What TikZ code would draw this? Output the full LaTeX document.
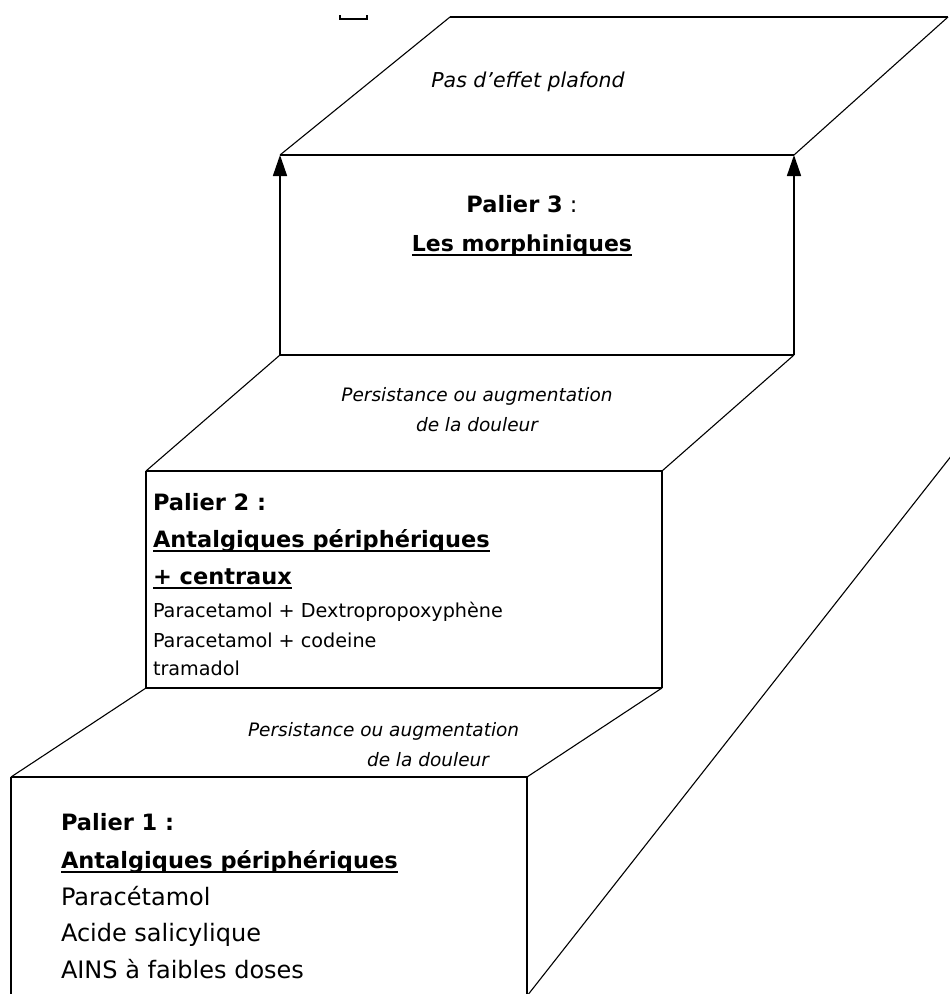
\documentclass[tikz,border=0pt]{standalone}
\usepackage{fontspec}
\setmainfont{DejaVu Sans}
\usetikzlibrary{arrows.meta}
\newcommand\myul[1]{\setbox0\hbox{#1}\rlap{\rule[-4.6pt]{\wd0}{1.8pt}}\box0}
\begin{document}
\begin{tikzpicture}[x=1pt,y=-1pt,
  hedge/.style={line width=2pt},
  vedge/.style={line width=1.6pt},
  slant/.style={line width=1.1pt},
  uparrow/.style={-{Triangle[length=21pt,width=14pt]}},
  txt/.style={inner sep=0pt, outer sep=0pt},
  hdr/.style={txt, anchor=base west, font=\fontsize{22.5}{27}\selectfont\bfseries},
  bodyA/.style={txt, anchor=base west, font=\fontsize{24}{29}\selectfont},
  bodyB/.style={txt, anchor=base west, font=\fontsize{19.2}{23}\selectfont},
  itl/.style={txt, font=\fontsize{18.5}{22}\selectfont\itshape},
]
\useasboundingbox (0,0) rectangle (950,994);
% corners
\coordinate (t1) at (450,17);
\coordinate (t2) at (948,17);
\coordinate (t3) at (794,155);
\coordinate (t4) at (280,155);
\coordinate (b3l) at (280,355);
\coordinate (b3r) at (794,355);
\coordinate (s2l) at (146,471);
\coordinate (s2r) at (662,471);
\coordinate (f2l) at (146,688);
\coordinate (f2r) at (662,688);
\coordinate (s1l) at (11,777);
\coordinate (s1r) at (527,777);
\coordinate (g1l) at (11,996);
\coordinate (g1r) at (527,996);
\coordinate (r1) at (952,455);
\coordinate (m1) at (340,15);
\coordinate (m2) at (340,19);
\coordinate (m3) at (367,19);
\coordinate (m4) at (367,15);
% small mark
\draw[line width=1.6pt] (m1) -- (m2) -- (m3) -- (m4);
% top face
\draw[slant] (t4) -- (t1);
\draw[hedge] (t1) -- (t2);
\draw[slant] (t2) -- (t3);
\draw[hedge] (t4) -- (t3);
% step 3 front
\draw[vedge, uparrow] (b3l) -- (t4);
\draw[vedge, uparrow] (b3r) -- (t3);
\draw[hedge] (b3l) -- (b3r);
% step 2 top
\draw[slant] (b3l) -- (s2l);
\draw[slant] (b3r) -- (s2r);
\draw[hedge] (s2l) -- (s2r);
% step 2 front
\draw[vedge] (s2l) -- (f2l);
\draw[vedge] (s2r) -- (f2r);
\draw[hedge] (f2l) -- (f2r);
% step 1 top
\draw[slant] (f2l) -- (s1l);
\draw[slant] (f2r) -- (s1r);
\draw[hedge] (s1l) -- (s1r);
% step 1 front
\draw[vedge] (s1l) -- (g1l);
\draw[vedge] (s1r) -- (g1r);
% long side line
\draw[slant] (r1) -- (g1r);
% texts
\node[itl, anchor=base, font=\fontsize{20.5}{24}\selectfont\itshape] (pas) at (528,87) {Pas d'effet plafond};
\node[txt, anchor=base, font=\fontsize{22.5}{27}\selectfont] (p3) at (522,212) {\textbf{Palier 3} :};
\node[txt, anchor=base, font=\fontsize{22}{27}\selectfont\bfseries] (lm) at (522,251) {\myul{Les morphiniques}};
\node[itl, anchor=base] (pe2a) at (477,401) {Persistance ou augmentation};
\node[itl, anchor=base] (pe2b) at (477,431) {de la douleur};
\node[hdr] (p2) at (153,510) {Palier 2 :};
\node[hdr] (a2) at (153,547) {\myul{Antalgiques périphériques}};
\node[hdr] (c2) at (153,584) {\myul{+ centraux}};
\node[bodyB] (d2a) at (153,617) {Paracetamol + Dextropropoxyphène};
\node[bodyB] (d2b) at (153,647) {Paracetamol + codeine};
\node[bodyB] (d2c) at (153,675) {tramadol};
\node[itl, anchor=base west] (pe1a) at (248,736) {Persistance ou augmentation};
\node[itl, anchor=base west] (pe1b) at (367,766) {de la douleur};
\node[hdr] (p1) at (61,830) {Palier 1 :};
\node[hdr] (a1) at (61,868) {\myul{Antalgiques périphériques}};
\node[bodyA] (d1a) at (61,905) {Paracétamol};
\node[bodyA] (d1b) at (61,941) {Acide salicylique};
\node[bodyA] (d1c) at (61,978) {AINS à faibles doses};
\end{tikzpicture}
\end{document}
